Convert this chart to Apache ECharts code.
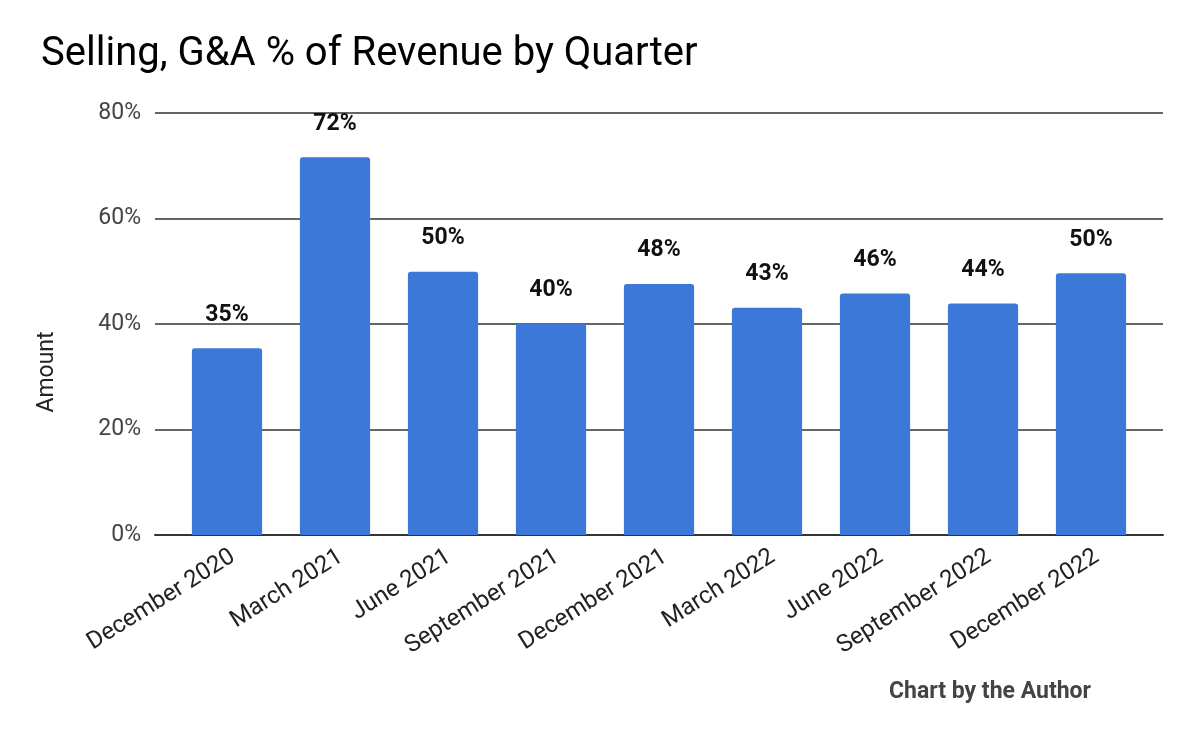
<!DOCTYPE html>
<html>
<head>
<meta charset="utf-8">
<script src="https://cdn.jsdelivr.net/npm/echarts@6/dist/echarts.min.js"></script>
<style>
html,body{margin:0;padding:0;background:#fff;}
#chart{width:1199px;height:742px;}
</style>
</head>
<body>
<div id="chart"></div>
<script>
const categories = ["December 2020","March 2021","June 2021","September 2021","December 2021","March 2022","June 2022","September 2022","December 2022"];
const values = [35.4, 71.6, 49.9, 40.1, 47.6, 43.1, 45.8, 43.9, 49.6];
const yTicks = [0, 20, 40, 60, 80];

const yMin = yTicks[0], yMax = yTicks[yTicks.length - 1];
const chart = echarts.init(document.getElementById('chart'));
chart.setOption({
  animation: false,
  backgroundColor: '#ffffff',
  textStyle: { fontFamily: 'Roboto' },
  title: {
    text: 'Selling, G&A % of Revenue by Quarter',
    left: 36, top: 30,
    textStyle: { fontFamily: 'Roboto', fontSize: 40, fontWeight: 'normal', color: '#000' }
  },
  grid: [
    { left: 155, right: 36, top: 113, bottom: 207 },
    { left: 173, right: 54, top: 113, bottom: 207 },
    { left: 179, right: 48, top: 113, bottom: 207 }
  ],
  xAxis: [
    {
      gridIndex: 0, type: 'category', data: categories,
      axisTick: { show: false }, axisLabel: { show: false },
      axisLine: { show: true, lineStyle: { color: '#333', width: 2 } }
    },
    {
      gridIndex: 1, type: 'category', data: categories,
      axisTick: { show: false }, axisLine: { show: false }, axisLabel: { show: false }
    },
    {
      gridIndex: 2, type: 'category', data: categories,
      axisTick: { show: false },
      axisLine: { show: false },
      axisLabel: { rotate: 32, fontSize: 24, color: '#222', margin: 20, interval: 0, fontFamily: 'Roboto' }
    }
  ],
  yAxis: [
    {
      gridIndex: 0, type: 'value', min: yMin, max: yMax, interval: 20,
      axisLine: { show: false }, axisTick: { show: false },
      splitLine: { lineStyle: { color: '#333', width: 1.5 } },
      axisLabel: { formatter: v => v + '%', fontSize: 23, color: '#444', margin: 14, fontFamily: 'Roboto' }
    },
    {
      gridIndex: 1, type: 'value', min: yMin, max: yMax, interval: 20,
      show: false, splitLine: { show: false }
    },
    {
      gridIndex: 2, type: 'value', min: yMin, max: yMax, interval: 20,
      show: false, splitLine: { show: false }
    }
  ],
  graphic: [
    {
      type: 'text', x: 36, y: 372, rotation: Math.PI / 2,
      style: { text: 'Amount', fontSize: 23, fill: '#222', fontFamily: 'Roboto', align: 'center', verticalAlign: 'top' }
    },
    {
      type: 'text', x: 990, y: 692,
      style: { text: 'Chart by the Author', fontSize: 23, fontWeight: 'bold', fill: '#444', fontFamily: 'Roboto', align: 'center', verticalAlign: 'middle' }
    }
  ],
  series: [{
    type: 'bar',
    xAxisIndex: 1, yAxisIndex: 1,
    data: values,
    barWidth: '65%',
    itemStyle: { color: '#3c78d8', borderRadius: [3, 3, 0, 0] },
    label: {
      show: true, position: 'top', distance: 22,
      formatter: p => Math.round(p.value) + '%',
      fontSize: 23, fontWeight: 'bold', color: '#111', fontFamily: 'Roboto'
    }
  }]
});
</script>
</body>
</html>
